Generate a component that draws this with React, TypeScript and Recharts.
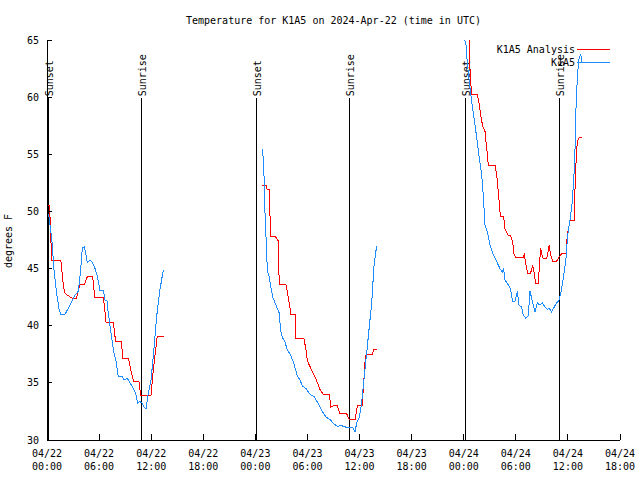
import { LineChart, Line, XAxis, YAxis, ReferenceLine } from "recharts";

document.body.style.margin = "0";

const FONT = "'DejaVu Sans Mono', monospace";

// hours since 04/22 00:00 UTC, temperature in F
const anaDay1 = [
  [0.0, 50.5], [0.3, 50.5], [0.38, 48.8], [0.5, 46.5], [0.55, 45.7], [1.6, 45.7], [1.9, 43.4],
  [2.1, 42.8], [2.9, 42.4], [3.4, 42.4], [3.6, 43.1], [3.8, 43.6], [4.3, 43.6], [4.65, 44.3],
  [5.26, 44.3], [5.5, 42.5], [6.5, 42.5], [6.8, 40.3], [7.65, 40.3], [7.9, 38.6], [8.6, 38.6],
  [8.7, 37.1], [9.4, 37.1], [9.75, 35.8], [10.0, 35.1], [10.6, 35.1], [10.8, 33.9], [11.98, 33.9],
  [12.24, 36.1], [12.7, 39.1], [13.5, 39.1],
];
const anaDay2 = [
  [24.8, 52.3], [25.22, 52.3], [25.38, 51.9], [25.6, 51.9], [25.68, 49.8], [25.76, 47.85],
  [26.26, 47.85], [26.65, 47.4], [26.7, 45.0], [26.76, 43.65], [27.5, 43.65], [27.72, 42.8],
  [27.9, 42.0], [28.1, 41.0], [28.6, 41.0], [28.68, 38.85], [29.6, 38.85], [29.83, 37.9],
  [30.0, 36.9], [30.5, 36.1], [31.0, 35.3], [31.45, 34.4], [31.83, 34.0], [32.5, 34.0],
  [32.7, 32.9], [33.0, 33.0], [33.44, 33.0], [33.75, 32.3], [34.52, 32.3], [34.8, 31.8],
  [35.5, 31.8], [35.75, 33.0], [36.3, 33.0], [36.5, 35.25], [36.63, 36.85], [36.75, 37.5],
  [37.48, 37.5], [37.6, 37.9], [37.97, 37.9],
];
const anaDay3 = [
  [48.1, 65.3], [48.6, 65.3], [48.72, 62.5], [48.9, 60.25], [49.56, 60.25], [49.8, 59.3],
  [49.95, 58.4], [50.2, 57.4], [50.45, 57.0], [50.56, 56.1], [50.7, 55.2], [50.83, 54.05],
  [51.6, 54.05], [51.8, 53.2], [52.0, 51.6], [52.17, 50.0], [52.26, 49.55], [52.6, 49.55],
  [52.75, 48.5], [53.14, 47.9], [53.4, 47.85], [53.64, 47.35], [53.8, 46.2], [54.0, 46.0],
  [54.86, 46.0], [54.98, 46.2], [55.25, 45.0], [55.36, 44.6], [55.7, 44.6], [55.94, 45.3],
  [56.1, 44.7], [56.28, 43.7], [56.58, 43.7], [56.7, 45.0], [56.86, 46.8], [57.0, 46.2],
  [57.16, 45.85], [57.55, 45.85], [57.74, 46.6], [57.85, 47.05], [58.0, 46.2], [58.24, 45.65],
  [58.7, 45.65], [58.97, 46.0], [59.28, 46.3], [59.78, 46.3], [59.93, 47.9], [60.24, 49.25],
  [60.74, 49.25], [60.82, 52.0], [61.0, 55.5], [61.19, 56.4], [61.58, 56.5],
];

const obsDay1 = [
  [0.0, 50.0], [0.23, 49.5], [0.54, 47.7], [0.8, 44.9], [1.1, 42.9], [1.38, 41.5], [1.57, 41.0],
  [2.07, 41.0], [2.65, 41.8], [3.22, 42.7], [3.6, 43.0], [3.88, 44.9], [4.07, 46.8], [4.3, 46.9],
  [4.45, 46.4], [4.65, 45.5], [4.95, 45.75], [5.26, 45.5], [5.53, 45.0], [5.8, 44.3], [6.1, 43.1],
  [6.5, 43.1], [6.7, 42.2], [6.9, 42.2], [7.06, 41.1], [7.33, 39.6], [7.64, 37.9], [7.95, 36.9],
  [8.2, 35.6], [8.6, 35.6], [8.87, 35.25], [9.25, 35.4], [9.56, 35.0], [9.94, 34.5], [10.2, 34.1],
  [10.45, 33.2], [10.63, 33.35], [10.9, 33.3], [11.17, 32.9], [11.4, 32.7], [11.67, 34.1],
  [11.98, 35.25], [12.24, 37.3], [12.63, 40.8], [13.0, 43.1], [13.4, 44.9],
];
const obsDay2 = [
  [24.8, 55.5], [24.92, 54.5], [25.03, 52.5], [25.1, 50.1], [25.22, 47.9], [25.3, 46.0],
  [25.42, 44.7], [25.6, 44.3], [25.8, 43.3], [26.0, 42.5], [26.26, 42.0], [26.53, 41.5],
  [26.76, 41.1], [26.9, 39.6], [27.1, 39.0], [27.4, 38.6], [27.68, 37.9], [28.07, 37.4],
  [28.37, 36.85], [28.65, 36.1], [28.83, 35.6], [29.14, 35.25], [29.45, 34.7], [29.83, 34.5],
  [30.3, 34.0], [30.75, 33.8], [31.25, 33.2], [31.64, 32.6], [32.14, 32.0], [32.6, 31.8],
  [32.98, 31.45], [33.44, 31.2], [33.94, 31.25], [34.52, 31.1], [35.2, 31.1], [35.48, 30.7],
  [35.67, 31.5], [35.97, 32.0], [36.24, 33.2], [36.5, 35.25], [36.82, 37.6], [37.12, 39.9],
  [37.4, 42.0], [37.66, 45.2], [37.97, 47.0],
];
const obsDay3 = [
  [48.0, 65.4], [48.26, 64.6], [48.4, 63.1], [48.6, 61.65], [48.8, 60.3], [49.03, 59.0],
  [49.3, 57.55], [49.56, 56.1], [49.8, 54.65], [50.07, 53.2], [50.25, 51.4], [50.45, 48.8],
  [50.72, 48.2], [51.03, 47.05], [51.4, 46.2], [51.8, 45.6], [52.17, 45.0], [52.45, 44.7],
  [52.6, 45.0], [52.75, 44.0], [53.14, 43.55], [53.4, 43.2], [53.64, 42.1], [53.9, 42.1],
  [54.17, 43.0], [54.36, 41.8], [54.67, 41.65], [54.86, 40.9], [55.17, 40.65], [55.44, 40.9],
  [55.63, 43.0], [55.83, 42.4], [56.0, 41.8], [56.2, 41.2], [56.47, 42.0], [56.78, 41.8],
  [57.05, 42.0], [57.36, 41.65], [57.63, 41.45], [57.85, 41.5], [58.13, 41.2], [58.43, 41.65],
  [58.7, 42.0], [59.0, 42.25], [59.28, 43.25], [59.55, 44.6], [59.78, 45.9], [59.97, 47.9],
  [60.24, 49.25], [60.5, 50.85], [60.7, 53.2], [60.82, 55.5], [60.93, 59.0], [61.08, 61.6],
  [61.24, 63.25], [61.47, 63.8], [61.6, 63.1],
];

const eventHours = [0.12, 10.86, 24.1, 34.9, 48.2, 59.0];
const eventLabels = ["Sunset", "Sunrise", "Sunset", "Sunrise", "Sunset", "Sunrise"];
const eventTop = 59.9;

const xTicks = [0, 6, 12, 18, 24, 30, 36, 42, 48, 54, 60, 66];
const xTickDates = ["04/22", "04/22", "04/22", "04/22", "04/23", "04/23", "04/23", "04/23", "04/24", "04/24", "04/24", "04/24"];
const xTickTimes = ["00:00", "06:00", "12:00", "18:00", "00:00", "06:00", "12:00", "18:00", "00:00", "06:00", "12:00", "18:00"];
const xMinorTicks = [0, 2, 4, 6, 8, 10, 12, 14, 16, 18, 20, 22, 24, 26, 28, 30, 32, 34, 36, 38, 40, 42, 44, 46, 48, 50, 52, 54, 56, 58, 60, 62, 64, 66];
const yTicks = [30, 35, 40, 45, 50, 55, 60, 65];

type Row = { h: number; t: number | null };

function joinDays(days: number[][][]): Row[] {
  const rows: Row[] = [];
  days.forEach((day, i) => {
    if (i > 0) {
      const prev = days[i - 1];
      rows.push({ h: (prev[prev.length - 1][0] + day[0][0]) / 2, t: null });
    }
    day.forEach(([h, t]) => rows.push({ h, t }));
  });
  return rows;
}

const anaData = joinDays([anaDay1, anaDay2, anaDay3]);
const obsData = joinDays([obsDay1, obsDay2, obsDay3]);

const XTick = (props: any) => {
  const { x, y, payload } = props;
  const i = xTicks.indexOf(payload.value);
  return (
    <g fontFamily={FONT} fontSize={10} fill="#000">
      <text x={x} y={y + 17} textAnchor="middle">{xTickDates[i]}</text>
      <text x={x} y={y + 30} textAnchor="middle">{xTickTimes[i]}</text>
    </g>
  );
};

const EventLabel = (props: any) => {
  const { viewBox, value } = props;
  const x = viewBox?.x ?? 0;
  const y = viewBox?.y ?? 0;
  return (
    <text
      transform={`translate(${x + 1},${y - 2}) rotate(-90)`}
      dominantBaseline="central"
      fontFamily={FONT}
      fontSize={10}
      fill="#000"
    >
      {value}
    </text>
  );
};

export default function App() {
  return (
    <div style={{ position: "relative", width: 640, height: 480, background: "#fff" }}>
      <LineChart width={640} height={480} margin={{ top: 40, right: 20, left: 7, bottom: 10 }}>
        <XAxis xAxisId="xm" dataKey="h" type="number" domain={[0, 66]} ticks={xMinorTicks} interval={0}
          height={0} tickSize={-3} tick={false} axisLine={false} stroke="#000" shapeRendering="crispEdges" />
        <XAxis xAxisId="x" dataKey="h" type="number" domain={[0, 66]} ticks={xTicks} interval={0}
          height={30} tickSize={-6} tickMargin={6} tick={<XTick />} stroke="#000" shapeRendering="crispEdges" />
        <XAxis xAxisId="xtm" orientation="top" dataKey="h" type="number" domain={[0, 66]} ticks={xMinorTicks}
          interval={0} height={0} tickSize={-3} tick={false} axisLine={false} stroke="#000" shapeRendering="crispEdges" />
        <XAxis xAxisId="xt" orientation="top" dataKey="h" type="number" domain={[0, 66]} ticks={xTicks}
          interval={0} height={0} tickSize={-6} tick={false} stroke="#000" shapeRendering="crispEdges" />
        <YAxis yAxisId="y" type="number" domain={[30, 65]} ticks={yTicks} interval={0} allowDataOverflow
          width={40} tickSize={-5} tickMargin={13} stroke="#000" shapeRendering="crispEdges"
          tick={{ fontFamily: FONT, fontSize: 10, fill: "#000" }} />
        <YAxis yAxisId="yr" orientation="right" type="number" domain={[30, 65]} ticks={yTicks} interval={0}
          width={0} tickSize={-5} tick={false} stroke="#000" shapeRendering="crispEdges" />
        {eventHours.map((h, i) => (
          <ReferenceLine
            key={`ev-${i}`}
            xAxisId="x"
            yAxisId="y"
            segment={[{ x: h, y: 30 }, { x: h, y: eventTop }]}
            stroke="#000"
            strokeWidth={1}
            shapeRendering="crispEdges"
            label={{ value: eventLabels[i], content: EventLabel }}
          />
        ))}
        <Line xAxisId="x" yAxisId="y" data={anaData} dataKey="t" type="linear" stroke="#ff0000"
          strokeWidth={1} dot={false} isAnimationActive={false} shapeRendering="crispEdges" />
        <Line xAxisId="x" yAxisId="y" data={obsData} dataKey="t" type="linear" stroke="#1e8cff"
          strokeWidth={1} dot={false} isAnimationActive={false} shapeRendering="crispEdges" />
      </LineChart>
      <svg width={640} height={480} style={{ position: "absolute", left: 0, top: 0, pointerEvents: "none" }}>
        <g fontFamily={FONT} fontSize={10} fill="#000">
          <text x={333.5} y={24} textAnchor="middle">Temperature for K1A5 on 2024-Apr-22 (time in UTC)</text>
          <text transform="translate(11.5,241) rotate(-90)" textAnchor="middle">degrees F</text>
          <text x={575} y={53} textAnchor="end">K1A5 Analysis</text>
          <text x={575} y={66} textAnchor="end">K1A5</text>
        </g>
        <line x1={577} x2={610} y1={49.5} y2={49.5} stroke="#ff0000" shapeRendering="crispEdges" />
        <line x1={577} x2={610} y1={62.5} y2={62.5} stroke="#1e8cff" shapeRendering="crispEdges" />
      </svg>
    </div>
  );
}
